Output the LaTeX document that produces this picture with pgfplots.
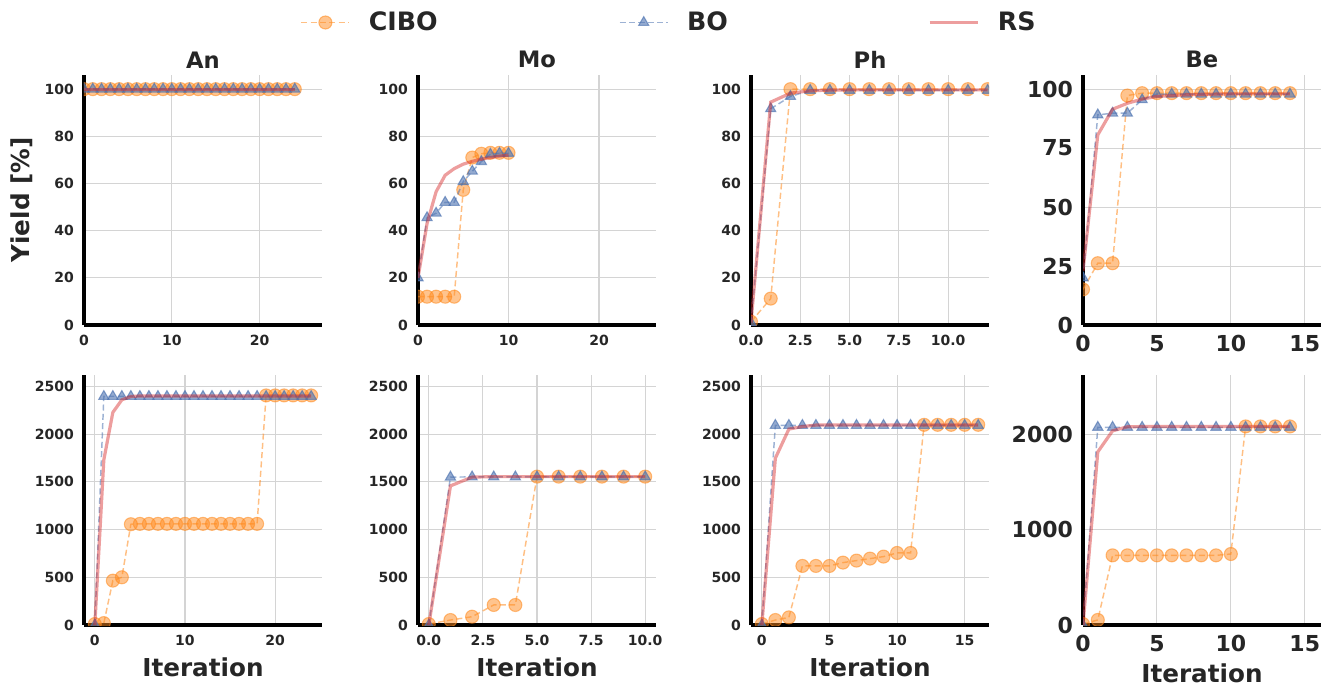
\documentclass[border=0pt]{standalone}
\usepackage{fontspec}
\setmainfont{DejaVu Sans}
\usepackage{pgfplots}
\pgfplotsset{compat=1.18}

\definecolor{cOrange}{HTML}{FF8A1E}
\definecolor{cBlue}{HTML}{4C72B0}
\definecolor{cRed}{HTML}{D62728}
\definecolor{gridgray}{HTML}{D4D4D4}
\definecolor{txt}{HTML}{262626}

\pgfplotsset{
  panel/.style={
    scale only axis, width=178.5pt, height=187.5pt,
    axis x line*=bottom, axis y line*=left,
    axis line style={-, line width=3pt, black},
    grid=major, grid style={gridgray, line width=0.8pt},
    major tick length=0pt,
    tick label style={font=\fontsize{10.5}{12}\selectfont\bfseries, text=txt},
    xticklabel style={yshift=-4pt},
    yticklabel style={xshift=-4pt},
    /pgf/number format/assume math mode=true,
    /pgf/number format/1000 sep={},
    title style={font=\fontsize{17}{20}\selectfont\bfseries, text=txt, yshift=-4.5pt},
    label style={font=\fontsize{18.5}{21}\selectfont\bfseries, text=txt},
    xlabel style={yshift=-2pt},
    clip marker paths=true,
    enlargelimits=false,
    legend image code/.code={\draw[mark repeat=2, mark phase=2, ##1] plot coordinates {(0pt,0pt) (18pt,0pt) (36pt,0pt)};},
  },
  big ticks/.style={tick label style={font=\fontsize{16.5}{19}\selectfont\bfseries}},
  top row/.style={ymin=0, ymax=106, ytick={0,20,...,100}},
  bottom row/.style={ymin=0, ymax=2620, ytick={0,500,...,2500}, xlabel={Iteration}},
  one decimal/.style={xticklabel style={/pgf/number format/.cd, fixed, fixed zerofill, precision=1}},
  cibo/.style={cOrange, draw opacity=0.55, line width=1.1pt, dash pattern=on 4.5pt off 2.5pt,
    mark=*, mark size=4.9pt,
    mark options={solid, fill=cOrange, fill opacity=0.5, draw opacity=0.55, line width=0.8pt}},
  bo/.style={cBlue, draw opacity=0.55, line width=1.1pt, dash pattern=on 4.5pt off 2.5pt,
    mark=triangle*, mark size=4.4pt,
    mark options={solid, fill=cBlue, fill opacity=0.6, draw opacity=0.65, line width=0.8pt}},
  rs/.style={cRed, draw opacity=0.45, line width=2.4pt, mark=none},
}

\begin{document}
\begin{tikzpicture}
\useasboundingbox (0,0) rectangle (992.25pt,514.5pt);

% ---------- top row: yield ----------
\begin{axis}[panel, top row, at={(63pt,270.75pt)}, anchor=south west,
  title={An}, ylabel={Yield [\%]},
  ylabel style={at={(axis description cs:-0.262,0.5)}, anchor=center, rotate=0},
  xmin=0, xmax=27.1, xtick={0,10,20},
  legend columns=3,
  legend style={at={(2.460,1.210)}, anchor=center, draw=none, fill=none,
    font=\fontsize{19}{21}\selectfont\bfseries, text=txt,
    /tikz/column 1/.style={column sep=12pt},
    /tikz/column 2/.style={column sep=134pt},
    /tikz/column 3/.style={column sep=12pt},
    /tikz/column 4/.style={column sep=148pt},
    /tikz/column 5/.style={column sep=12pt}}]
\addplot[cibo] coordinates {(0,100)(1,100)(2,100)(3,100)(4,100)(5,100)(6,100)(7,100)(8,100)(9,100)(10,100)(11,100)(12,100)(13,100)(14,100)(15,100)(16,100)(17,100)(18,100)(19,100)(20,100)(21,100)(22,100)(23,100)(24,100)};
\addlegendentry{CIBO}
\addplot[bo] coordinates {(0,100)(1,100)(2,100)(3,100)(4,100)(5,100)(6,100)(7,100)(8,100)(9,100)(10,100)(11,100)(12,100)(13,100)(14,100)(15,100)(16,100)(17,100)(18,100)(19,100)(20,100)(21,100)(22,100)(23,100)(24,100)};
\addlegendentry{BO}
\addplot[rs] coordinates {(0,100)(1,100)(2,100)(3,100)(4,100)(5,100)(6,100)(7,100)(8,100)(9,100)(10,100)(11,100)(12,100)(13,100)(14,100)(15,100)(16,100)(17,100)(18,100)(19,100)(20,100)(21,100)(22,100)(23,100)(24,100)};
\addlegendentry{RS}
\end{axis}

\begin{axis}[panel, top row, at={(313.5pt,270.75pt)}, anchor=south west,
  title={Mo}, xmin=0, xmax=26.3, xtick={0,10,20}]
\addplot[cibo] coordinates {(0,12)(1,12)(2,12)(3,12)(4,12)(5,57.3)(6,71)(7,72.6)(8,73)(9,73)(10,73)};
\addplot[bo] coordinates {(0,20)(1,45.5)(2,47.4)(3,52)(4,52)(5,60.8)(6,65.2)(7,69.3)(8,72.4)(9,72.8)(10,72.8)};
\addplot[rs] coordinates {(0,20)(1,43)(2,56.5)(3,63.5)(4,66.3)(5,68.2)(6,69.4)(7,70.3)(8,71)(9,71.6)(10,72)};
\end{axis}

\begin{axis}[panel, top row, one decimal, at={(563.25pt,270.75pt)}, anchor=south west,
  title={Ph}, xmin=0, xmax=12.07, xtick={0,2.5,5,7.5,10}]
\addplot[cibo] coordinates {(0,1.4)(1,11.2)(2,100)(3,100)(4,100)(5,100)(6,100)(7,100)(8,100)(9,100)(10,100)(11,100)(12,100)};
\addplot[bo] coordinates {(0,1)(1,91.7)(2,96.9)(3,99.5)(4,99.5)(5,99.5)(6,99.5)(7,99.5)(8,99.5)(9,99.5)(10,99.5)(11,99.5)(12,99.5)};
\addplot[rs] coordinates {(0,1)(1,94.5)(2,98.3)(3,99.3)(4,99.6)(5,99.7)(6,99.7)(7,99.7)(8,99.7)(9,99.7)(10,99.7)(11,99.7)(12,99.7)};
\end{axis}

\begin{axis}[panel, big ticks, at={(812.25pt,270.75pt)}, anchor=south west,
  title={Be}, ymin=0, ymax=106, ytick={0,25,50,75,100},
  xmin=0, xmax=16.1, xtick={0,5,10,15}]
\addplot[cibo] coordinates {(0,15.1)(1,26.2)(2,26.2)(3,97.3)(4,98.3)(5,98.3)(6,98.3)(7,98.3)(8,98.3)(9,98.3)(10,98.3)(11,98.3)(12,98.3)(13,98.3)(14,98.3)};
\addplot[bo] coordinates {(0,20)(1,89.1)(2,89.8)(3,89.8)(4,95.5)(5,97.9)(6,97.9)(7,97.9)(8,97.9)(9,97.9)(10,97.9)(11,97.9)(12,97.9)(13,97.9)(14,97.9)};
\addplot[rs] coordinates {(0,23)(1,80.6)(2,91.5)(3,94)(4,95.8)(5,96.9)(6,97.3)(7,97.6)(8,97.8)(9,97.9)(10,98)(11,98)(12,98)(13,98)(14,98)};
\end{axis}

% ---------- bottom row ----------
\begin{axis}[panel, bottom row, at={(63pt,45.75pt)}, anchor=south west,
  xmin=-1.2, xmax=25.2, xtick={0,10,20}]
\addplot[cibo] coordinates {(0,10)(1,20)(2,465)(3,500)(4,1056)(5,1060)(6,1060)(7,1060)(8,1060)(9,1060)(10,1060)(11,1060)(12,1060)(13,1060)(14,1060)(15,1060)(16,1060)(17,1060)(18,1060)(19,2406)(20,2406)(21,2406)(22,2406)(23,2406)(24,2406)};
\addplot[bo] coordinates {(0,0)(1,2395)(2,2395)(3,2395)(4,2395)(5,2395)(6,2395)(7,2395)(8,2395)(9,2395)(10,2395)(11,2395)(12,2395)(13,2395)(14,2395)(15,2395)(16,2395)(17,2395)(18,2395)(19,2395)(20,2395)(21,2395)(22,2395)(23,2395)(24,2395)};
\addplot[rs] coordinates {(0,0)(1,1731)(2,2228)(3,2360)(4,2395)(5,2400)(6,2400)(7,2400)(8,2400)(9,2400)(10,2400)(11,2400)(12,2400)(13,2400)(14,2400)(15,2400)(16,2400)(17,2400)(18,2400)(19,2400)(20,2400)(21,2400)(22,2400)(23,2400)(24,2400)};
\end{axis}

\begin{axis}[panel, bottom row, one decimal, at={(313.5pt,45.75pt)}, anchor=south west,
  xmin=-0.5, xmax=10.5, xtick={0,2.5,5,7.5,10}]
\addplot[cibo] coordinates {(0,10)(1,52)(2,87)(3,210)(4,210)(5,1555)(6,1555)(7,1555)(8,1555)(9,1555)(10,1555)};
\addplot[bo] coordinates {(0,0)(1,1550)(2,1552)(3,1552)(4,1552)(5,1552)(6,1552)(7,1552)(8,1552)(9,1552)(10,1552)};
\addplot[rs] coordinates {(0,0)(1,1458)(2,1550)(3,1555)(4,1555)(5,1555)(6,1555)(7,1555)(8,1555)(9,1555)(10,1555)};
\end{axis}

\begin{axis}[panel, bottom row, at={(563.25pt,45.75pt)}, anchor=south west,
  xmin=-0.8, xmax=16.8, xtick={0,5,10,15}]
\addplot[cibo] coordinates {(0,10)(1,52)(2,80)(3,619)(4,619)(5,619)(6,654)(7,675)(8,696)(9,717)(10,755)(11,755)(12,2098)(13,2098)(14,2098)(15,2098)(16,2098)};
\addplot[bo] coordinates {(0,0)(1,2092)(2,2092)(3,2092)(4,2092)(5,2092)(6,2092)(7,2092)(8,2092)(9,2092)(10,2092)(11,2092)(12,2092)(13,2092)(14,2092)(15,2092)(16,2092)};
\addplot[rs] coordinates {(0,0)(1,1748)(2,2053)(3,2080)(4,2095)(5,2095)(6,2095)(7,2095)(8,2095)(9,2095)(10,2095)(11,2095)(12,2095)(13,2095)(14,2095)(15,2095)(16,2095)};
\end{axis}

\begin{axis}[panel, big ticks, at={(812.25pt,45.75pt)}, anchor=south west,
  ymin=0, ymax=2620, ytick={0,1000,2000}, xlabel={Iteration},
  xmin=0, xmax=16.1, xtick={0,5,10,15}]
\addplot[cibo] coordinates {(0,10)(1,53)(2,730)(3,730)(4,730)(5,730)(6,730)(7,730)(8,730)(9,730)(10,744)(11,2081)(12,2081)(13,2081)(14,2081)};
\addplot[bo] coordinates {(0,0)(1,2072)(2,2072)(3,2072)(4,2072)(5,2072)(6,2072)(7,2072)(8,2072)(9,2072)(10,2072)(11,2072)(12,2072)(13,2072)(14,2072)};
\addplot[rs] coordinates {(0,0)(1,1814)(2,2035)(3,2077)(4,2080)(5,2080)(6,2080)(7,2080)(8,2080)(9,2080)(10,2080)(11,2080)(12,2080)(13,2080)(14,2080)};
\end{axis}
\end{tikzpicture}
\end{document}
